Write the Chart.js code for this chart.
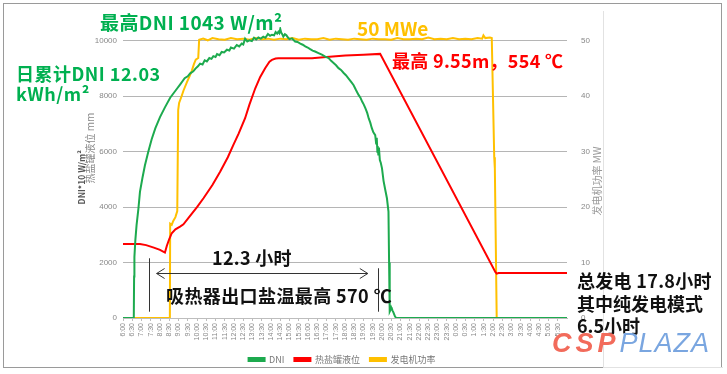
<!DOCTYPE html>
<html>
<head>
<meta charset="utf-8">
<script src="https://cdn.jsdelivr.net/npm/chart.js@4.4.1/dist/chart.umd.min.js"></script>
<style>
body { margin: 0; background: #fff; }
#wrap { position: relative; width: 727px; height: 374px; overflow: hidden; font-family: "Noto Sans CJK SC", "Noto Sans", sans-serif; }
#wrap canvas { position: absolute; left: 0; top: 0; }
.note { position: absolute; white-space: nowrap; font-weight: bold; font-size: 18px; line-height: 1; }
.rot { position: absolute; white-space: nowrap; line-height: 1; transform: rotate(-90deg); transform-origin: 50% 50%; text-align: center; }
.frame { position: absolute; left: 3px; top: 3px; width: 719px; height: 365px; border: 1px solid #9a9a9a; box-sizing: border-box; }
.inner { position: absolute; left: 603px; top: 11px; width: 119px; height: 356px; border-left: 1px solid #e2e2e2; border-bottom: 1px solid #e2e2e2; }
.mark { position: absolute; left: 552px; top: 330px; white-space: nowrap; font-family: "Liberation Sans", sans-serif; font-style: italic; font-size: 27px; line-height: 1; }
</style>
</head>
<body>
<div id="wrap">
  <canvas id="c" width="727" height="374"></canvas>
  <div class="frame"></div>
  <div class="inner"></div>

  <div class="rot" style="left:41px;top:173px;width:80px;font-size:8.5px;font-weight:bold;color:#555;">DNI*10 W/m²</div>
  <div class="rot" style="left:45px;top:143px;width:90px;font-size:10px;color:#888;">热盐罐液位 mm</div>
  <div class="rot" style="left:552px;top:176px;width:90px;font-size:10px;color:#999;">发电机功率 MW</div>

  <div class="note" style="left:100px;top:12px;font-size:19px;letter-spacing:0.4px;color:#00B050;">最高DNI 1043 W/m²</div>
  <div class="note" style="left:16px;top:64px;letter-spacing:0.5px;color:#00B050;">日累计DNI 12.03</div>
  <div class="note" style="left:16px;top:84px;letter-spacing:0.5px;color:#00B050;">kWh/m²</div>
  <div class="note" style="left:357px;top:18px;font-size:19px;color:#FFC000;">50 MWe</div>
  <div class="note" style="left:392px;top:51px;letter-spacing:0.3px;color:#FF0000;">最高 9.55m，554 ℃</div>
  <div class="note" style="left:212px;top:248px;letter-spacing:0.3px;color:#111;">12.3 小时</div>
  <div class="note" style="left:166px;top:286px;letter-spacing:0.4px;color:#111;">吸热器出口盐温最高 570 ℃</div>
  <div class="note" style="left:577px;top:271px;letter-spacing:0.3px;color:#111;">总发电 17.8小时</div>
  <div class="note" style="left:577px;top:294px;color:#111;">其中纯发电模式</div>
  <div class="note" style="left:577px;top:316px;color:#111;">6.5小时</div>

  <div class="mark"><span style="color:#f26b5b;font-weight:bold;letter-spacing:4px;">CSP</span><span style="color:#7aa6e0;letter-spacing:1px;">PLAZA</span></div>
</div>
<script>
// x axis: minutes after 6:00, one label every 30 min up to 5:30 next morning
var timeLabels = ['6:00','6:30','7:00','7:30','8:00','8:30','9:00','9:30','10:00','10:30','11:00','11:30',
    '12:00','12:30','13:00','13:30','14:00','14:30','15:00','15:30','16:00','16:30','17:00','17:30',
    '18:00','18:30','19:00','19:30','20:00','20:30','21:00','21:30','22:00','22:30','23:00','23:30',
    '0:00','0:30','1:00','1:30','2:00','2:30','3:00','3:30','4:00','4:30','5:00','5:30'];
var leftTicks = [0, 2000, 4000, 6000, 8000, 10000];
var rightTicks = [0, 10, 20, 30, 40, 50];

// DNI (plotted as DNI*10)
var dniTime = [0, 35, 36, 37, 40, 44, 50, 55, 63, 71, 82, 93, 105, 120, 136, 153, 170, 185, 200, 210, 218, 228, 235,
    243, 250, 258, 265, 272, 280, 287, 293, 300, 305, 313, 320, 328, 337, 345, 350, 360, 369, 377, 385, 390, 396,
    403, 410, 418, 425, 432, 439, 447, 455, 462, 470, 477, 483, 490, 495, 500, 504, 507, 510, 513, 516, 520, 525,
    530, 535, 540, 548, 558, 566, 575, 583, 591, 599, 607, 615, 623, 634, 645, 656, 667, 675, 683, 691, 699, 707,
    715, 723, 731, 740, 748, 756, 764, 770, 776, 781, 786, 792, 797, 802, 807, 812, 818, 821, 823, 825, 826, 828,
    830, 833, 836, 840, 845, 851, 856, 861, 863, 865, 868, 870, 872, 875, 877, 882, 886, 1440];
var dniValue = [0, 0, 1500, 2200, 2800, 3350, 3950, 4550, 5050, 5500, 6000, 6450, 6850, 7250, 7600, 7950, 8200, 8420, 8650, 8720, 8830, 8900, 9000,
    9080, 9180, 9150, 9300, 9260, 9380, 9350, 9450, 9420, 9520, 9480, 9600, 9580, 9680, 9650, 9760, 9720, 9850, 9800, 9900, 9870, 10080,
    9980, 10020, 9990, 10110, 10050, 10120, 10080, 10150, 10110, 10250, 10180, 10220, 10200, 10320, 10260, 10330, 10280, 10430, 10300, 10250, 10150, 10240,
    10200, 10120, 10060, 10090, 9975, 9960, 9900, 9860, 9800, 9760, 9700, 9650, 9615, 9560, 9500, 9430, 9375, 9280, 9200, 9120, 9015, 8950,
    8850, 8760, 8650, 8520, 8400, 8220, 8050, 7950, 7800, 7700, 7570, 7400, 7200, 7050, 6850, 6700, 6600, 6300, 6500, 6000, 6200, 5900,
    6150, 5700, 5600, 5400, 4950, 4600, 4320, 3840, 2000, 230, 300, 380, 330, 250, 200, 60, 0, 0];

// hot salt tank level, mm
var levelTime = [0, 55, 75, 100, 120, 136, 142, 150, 158, 170, 185, 196, 215, 240, 261, 290, 315, 340, 358, 375, 396,
    410, 429, 445, 461, 475, 483, 495, 504, 550, 613, 660, 721, 780, 834, 1208, 1212, 1218, 1440];
var levelValue = [2670, 2670, 2630, 2540, 2460, 2360, 2600, 2850, 3060, 3200, 3300, 3380, 3650, 4000, 4320, 4800, 5280, 5800, 6245, 6650, 7210,
    7700, 8290, 8700, 9015, 9250, 9315, 9360, 9375, 9370, 9375, 9420, 9470, 9500, 9530, 1650, 1600, 1620, 1620];

// generator power, MW
var powerTime = [0, 152, 153, 158, 163, 170, 176, 179, 182, 190, 196, 207, 215, 223, 230, 236, 244, 247, 260, 275, 290,
    310, 330, 350, 370, 390, 410, 430, 450, 470, 490, 510, 530, 550, 570, 590, 610, 630, 650, 670, 690, 710,
    730, 750, 770, 790, 810, 830, 850, 870, 890, 910, 930, 950, 970, 990, 1010, 1030, 1050, 1070, 1090, 1110,
    1130, 1150, 1165, 1169, 1175, 1190, 1196, 1204, 1206, 1212, 1440];
var powerValue = [0, 0, 17, 16.8, 17.5, 18.2, 19.3, 37.5, 38.8, 40, 41, 42.5, 43.5, 44.6, 45.8, 46.6, 46.9, 50.2, 50.4, 50.1, 50.5,
    50.3, 50.2, 50.5, 50.3, 50.4, 50.2, 50.5, 50.3, 50.4, 50.2, 50.4, 50.3, 50.5, 50.2, 50.4, 50.3, 50.3, 50.5, 50.2, 50.4, 50.3,
    50.2, 50.4, 50.3, 50.2, 50.4, 50.3, 50.3, 50.2, 50.5, 50.3, 50.3, 50.4, 50.3, 50.6, 50.3, 50.4, 50.3, 50.5, 50.3, 50.4,
    50.3, 50.5, 50.4, 51, 50.5, 50.6, 50.5, 29, 27, 0, 0];

// 12.3 h span of receiver operation (minutes after 6:00) and where the bracket sits (left axis units)
var spanTime = [85, 827];
var spanTop = [2155, 1795];
var spanBottom = 227;
var arrowTime = [109, 794];
var arrowLevel = 1625;

pts = function(t, v) {
    return t.map(function(x, i) { return { x: x, y: v[i] }; });
}

setTicks = function(list) {
    return function(s) {
        s.ticks = list.map(function(v) { return { value: v }; });
    };
}

plain = function(v) { return String(v); }

var spanPlugin = {
    id: 'span',
    afterDatasetsDraw: function(chart) {
        var ctx = chart.ctx, sx = chart.scales.x, sy = chart.scales.y;
        ctx.save();
        ctx.strokeStyle = '#333';
        ctx.lineWidth = 1;
        ctx.beginPath();
        for (var i = 0; i < 2; i++) {
            var px = Math.round(sx.getPixelForValue(spanTime[i])) + 0.5;
            ctx.moveTo(px, sy.getPixelForValue(spanTop[i]));
            ctx.lineTo(px, sy.getPixelForValue(spanBottom));
        }
        var ay = Math.round(sy.getPixelForValue(arrowLevel)) + 0.5;
        var a0 = sx.getPixelForValue(arrowTime[0]), a1 = sx.getPixelForValue(arrowTime[1]);
        ctx.moveTo(a0, ay); ctx.lineTo(a1, ay);
        ctx.moveTo(a0 + 8, ay - 5); ctx.lineTo(a0, ay); ctx.lineTo(a0 + 8, ay + 5);
        ctx.moveTo(a1 - 8, ay - 5); ctx.lineTo(a1, ay); ctx.lineTo(a1 - 8, ay + 5);
        ctx.stroke();
        ctx.restore();
    }
};

var tickFont = { family: 'Liberation Sans', size: 8 };

new Chart(document.getElementById('c'), {
    type: 'line',
    data: {
        datasets: [{
            label: 'DNI',
            data: pts(dniTime, dniValue),
            borderColor: '#1DAA4E',
            backgroundColor: '#1DAA4E',
            yAxisID: 'y'
        }, {
            label: '热盐罐液位',
            data: pts(levelTime, levelValue),
            borderColor: '#FF0000',
            backgroundColor: '#FF0000',
            yAxisID: 'y'
        }, {
            label: '发电机功率',
            data: pts(powerTime, powerValue),
            borderColor: '#FFC000',
            backgroundColor: '#FFC000',
            yAxisID: 'y1'
        }]
    },
    options: {
        responsive: false,
        animation: false,
        events: [],
        elements: {
            point: { radius: 0 },
            line: { borderWidth: 2, tension: 0 }
        },
        layout: { padding: { left: 72, right: 115, top: 27, bottom: 0 } },
        plugins: {
            tooltip: { enabled: false },
            legend: {
                position: 'bottom',
                labels: { boxWidth: 16, boxHeight: 3, padding: 10, color: '#777', font: { family: 'Noto Sans CJK SC', size: 9 } }
            }
        },
        scales: {
            x: {
                type: 'linear',
                min: 0,
                max: 1440,
                afterBuildTicks: setTicks(timeLabels.map(function(l, i) { return i * 30; })),
                afterFit: function(s) { s.height = 27; },
                grid: { drawOnChartArea: false, drawTicks: true, tickLength: 3, color: '#bdbdbd' },
                border: { color: '#bdbdbd' },
                ticks: {
                    autoSkip: false, maxRotation: 90, minRotation: 90, padding: 2,
                    color: '#888', font: { family: 'Liberation Sans', size: 7 },
                    callback: function(v) { return timeLabels[Math.round(v / 30)]; }
                }
            },
            y: {
                position: 'left',
                min: 0,
                max: 10500,
                afterBuildTicks: setTicks(leftTicks),
                afterFit: function(s) { s.width = 51; },
                grid: { color: '#b5b5b5', lineWidth: 1, drawTicks: false },
                border: { display: false },
                ticks: { autoSkip: false, padding: 6, color: '#888', font: tickFont, callback: plain }
            },
            y1: {
                position: 'right',
                min: 0,
                max: 52.5,
                afterBuildTicks: setTicks(rightTicks),
                afterFit: function(s) { s.width = 45; },
                grid: { display: false },
                border: { display: false },
                ticks: { autoSkip: false, padding: 6, color: '#888', font: tickFont, callback: plain }
            }
        }
    },
    plugins: [spanPlugin]
});
</script>
</body>
</html>
